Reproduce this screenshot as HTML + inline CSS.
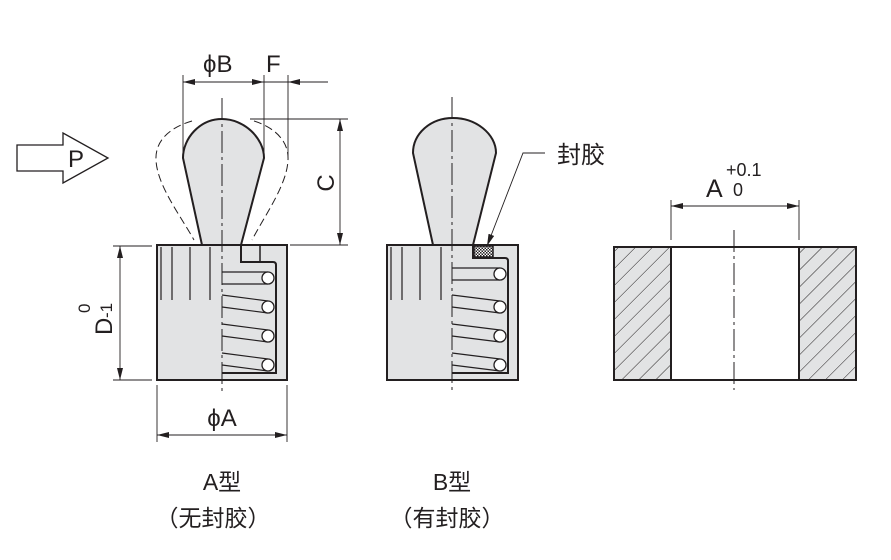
<!DOCTYPE html>
<html><head><meta charset="utf-8"><style>
html,body{margin:0;padding:0;background:#fff}
svg{display:block}
text{font-family:"Liberation Sans","Noto Sans CJK SC",sans-serif;fill:#231f20}
</style></head><body>
<svg width="891" height="560" viewBox="0 0 891 560" xmlns="http://www.w3.org/2000/svg">
<defs>
<marker id="ar" markerWidth="12" markerHeight="6" refX="12" refY="3" orient="auto" markerUnits="userSpaceOnUse"><path d="M0,0 L12,3 L0,6 Z" fill="#231f20"/></marker>
<pattern id="hatch" width="12" height="12" patternUnits="userSpaceOnUse" patternTransform="rotate(45)"><rect width="12" height="12" fill="#e2e3e4"/><line x1="0" y1="0" x2="0" y2="12" stroke="#231f20" stroke-width="1"/></pattern>
<pattern id="dots" width="3" height="3" patternUnits="userSpaceOnUse"><rect width="3" height="3" fill="#fff"/><rect width="1.5" height="1.5" fill="#231f20"/><rect x="1.5" y="1.5" width="1.5" height="1.5" fill="#231f20"/></pattern>
</defs>
<polygon points="17,145 63,145 63,133 108,158 63,183 63,171 17,171" stroke="#231f20" fill="none" stroke-width="1.3"/>
<text x="68" y="167" font-size="24">P</text>

<!-- ===== A type ===== -->
<g stroke="#231f20" stroke-width="1" fill="none" stroke-dasharray="8,4">
<path d="M192,121 C168,128 155,142 156,160 C157,185 180,215 194,240"/>
<path d="M254,121 C276,128 289,142 288,160 C287,185 265,215 252,240"/>
</g>
<rect x="157" y="245" width="130" height="135" fill="#e2e3e4" stroke="#231f20" stroke-width="2"/>
<path d="M202,245 L183,158 C183,138 200,119 222,119 C244,119 264,138 264,158 L241,245 Z" fill="#e2e3e4" stroke="#231f20" stroke-width="2"/>
<line x1="202" y1="245" x2="241" y2="245" stroke="#231f20" stroke-width="1.5"/>
<path d="M222,245 L241,245 L241,262 L273,262 Q276,262 276,265 L276,373 L222,373" fill="#e2e3e4" stroke="#231f20" stroke-width="2"/>
<line x1="260" y1="245" x2="260" y2="262" stroke="#231f20" stroke-width="1.5"/>
<g stroke="#231f20" stroke-width="1.2">
<line x1="161" y1="247" x2="161" y2="300"/><line x1="172" y1="247" x2="172" y2="300"/><line x1="190" y1="247" x2="190" y2="300"/><line x1="210" y1="247" x2="210" y2="300"/>
<line x1="222" y1="272" x2="268" y2="272"/><line x1="222" y1="284" x2="268" y2="284"/>
<line x1="222" y1="295" x2="268" y2="301"/><line x1="222" y1="307" x2="268" y2="313"/>
<line x1="222" y1="324" x2="268" y2="330"/><line x1="222" y1="336" x2="268" y2="342"/>
<line x1="222" y1="353" x2="268" y2="359"/><line x1="222" y1="365" x2="268" y2="371"/>
</g>
<g fill="#fff" stroke="#231f20" stroke-width="1.3">
<circle cx="268" cy="278" r="6"/><circle cx="268" cy="307" r="6"/><circle cx="268" cy="336" r="6"/><circle cx="268" cy="365" r="6"/>
</g>
<line x1="222" y1="98" x2="222" y2="395" stroke="#231f20" stroke-width="1" stroke-dasharray="22,4,3,4"/>
<g stroke="#231f20" stroke-width="0.9">
<line x1="183" y1="75" x2="183" y2="158"/><line x1="264" y1="75" x2="264" y2="158"/><line x1="288" y1="75" x2="288" y2="158"/>
<line x1="222" y1="82" x2="183" y2="82" marker-end="url(#ar)"/>
<line x1="222" y1="82" x2="264" y2="82" marker-end="url(#ar)"/>
<line x1="264" y1="82" x2="288" y2="82"/>
<line x1="328" y1="82" x2="288" y2="82" marker-end="url(#ar)"/>
<line x1="250" y1="119" x2="348" y2="119"/><line x1="290" y1="245" x2="348" y2="245"/>
<line x1="340" y1="180" x2="340" y2="119" marker-end="url(#ar)"/><line x1="340" y1="180" x2="340" y2="245" marker-end="url(#ar)"/>
<line x1="113" y1="246" x2="152" y2="246"/><line x1="113" y1="380" x2="152" y2="380"/>
<line x1="120" y1="310" x2="120" y2="246" marker-end="url(#ar)"/><line x1="120" y1="310" x2="120" y2="380" marker-end="url(#ar)"/>
<line x1="157" y1="385" x2="157" y2="442"/><line x1="287" y1="385" x2="287" y2="442"/>
<line x1="222" y1="435" x2="157" y2="435" marker-end="url(#ar)"/><line x1="222" y1="435" x2="287" y2="435" marker-end="url(#ar)"/>
</g>
<text x="203" y="72" font-size="24">ϕB</text>
<text x="266" y="72" font-size="24">F</text>
<text x="0" y="0" font-size="24" transform="translate(334,183) rotate(-90)" text-anchor="middle">C</text>
<text x="0" y="0" font-size="24" transform="translate(112,335) rotate(-90)">D</text>
<text x="0" y="0" font-size="17" transform="translate(112,318) rotate(-90)">-1</text>
<text x="0" y="0" font-size="17" transform="translate(90,313) rotate(-90)">0</text>
<text x="222" y="426" font-size="24" text-anchor="middle">ϕA</text>
<text x="222" y="490" font-size="23" text-anchor="middle">A型</text>
<text x="213" y="526" font-size="23" text-anchor="middle">（无封胶）</text>

<!-- ===== B type ===== -->
<rect x="387" y="245" width="131" height="135" fill="#e2e3e4" stroke="#231f20" stroke-width="2"/>
<path d="M433,245 L413,153 C413,134 430,118 453,118 C476,118 496,134 496,153 L473,245 Z" fill="#e2e3e4" stroke="#231f20" stroke-width="2"/>
<line x1="433" y1="245" x2="473" y2="245" stroke="#231f20" stroke-width="1.5"/>
<path d="M452,245 L473,245 L473,258 L505,258 Q508,258 508,261 L508,373 L452,373" fill="#e2e3e4" stroke="#231f20" stroke-width="2"/>
<rect x="474" y="246" width="19" height="11" fill="url(#dots)" stroke="#231f20" stroke-width="1.5"/>
<g stroke="#231f20" stroke-width="1.2">
<line x1="391" y1="247" x2="391" y2="300"/><line x1="402" y1="247" x2="402" y2="300"/><line x1="420" y1="247" x2="420" y2="300"/><line x1="441" y1="247" x2="441" y2="300"/>
<line x1="452" y1="268" x2="500" y2="268"/><line x1="452" y1="280" x2="500" y2="280"/>
<line x1="452" y1="295" x2="500" y2="301"/><line x1="452" y1="307" x2="500" y2="313"/>
<line x1="452" y1="324" x2="500" y2="330"/><line x1="452" y1="336" x2="500" y2="342"/>
<line x1="452" y1="353" x2="500" y2="359"/><line x1="452" y1="365" x2="500" y2="371"/>
</g>
<g fill="#fff" stroke="#231f20" stroke-width="1.3">
<circle cx="500" cy="274" r="6"/><circle cx="500" cy="307" r="6"/><circle cx="500" cy="336" r="6"/><circle cx="500" cy="365" r="6"/>
</g>
<line x1="452" y1="97" x2="452" y2="392" stroke="#231f20" stroke-width="1" stroke-dasharray="22,4,3,4"/>
<polyline points="545,153 523,153 487,246" fill="none" stroke="#231f20" stroke-width="0.9" marker-end="url(#ar)"/>
<text x="557" y="163" font-size="24">封胶</text>
<text x="452" y="490" font-size="23" text-anchor="middle">B型</text>
<text x="447" y="526" font-size="23" text-anchor="middle">（有封胶）</text>

<!-- ===== hole ===== -->
<rect x="614" y="247" width="57" height="133" fill="url(#hatch)"/>
<rect x="799" y="247" width="57" height="133" fill="url(#hatch)"/>
<g stroke="#231f20" stroke-width="2" fill="none">
<rect x="614" y="247" width="242" height="133"/>
<line x1="671" y1="247" x2="671" y2="380"/><line x1="799" y1="247" x2="799" y2="380"/>
</g>
<line x1="734" y1="230" x2="734" y2="390" stroke="#231f20" stroke-width="1" stroke-dasharray="22,4,3,4"/>
<g stroke="#231f20" stroke-width="0.9">
<line x1="671" y1="200" x2="671" y2="240"/><line x1="799" y1="200" x2="799" y2="240"/>
<line x1="735" y1="206" x2="671" y2="206" marker-end="url(#ar)"/><line x1="735" y1="206" x2="799" y2="206" marker-end="url(#ar)"/>
</g>
<text x="706" y="197" font-size="25">A</text>
<text x="726" y="176" font-size="18">+0.1</text>
<text x="733" y="196" font-size="18">0</text>
</svg>
</body></html>
